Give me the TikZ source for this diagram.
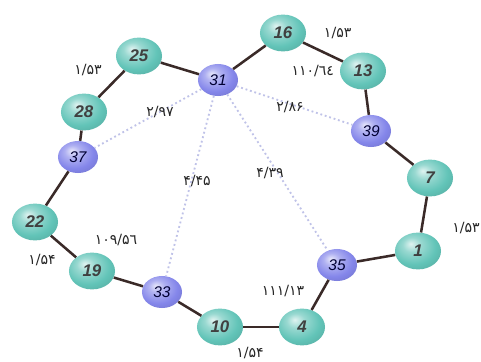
\documentclass[tikz,border=0pt]{standalone}
\usepackage{fontspec}
\usetikzlibrary{shapes.geometric,positioning}
\newfontfamily\fadigits{DejaVu Sans}
\newfontfamily\ballfont{Liberation Sans}
\definecolor{tealball}{HTML}{62C4B8}
\definecolor{blueball}{HTML}{8486EA}
\definecolor{linkcol}{HTML}{3A2A28}
\definecolor{weakcol}{HTML}{BFC2E8}
\pgfdeclareradialshading{tqball}{\pgfpoint{-8bp}{10bp}}{color(0bp)=(tealball!20!white); color(10bp)=(tealball!65!white); color(24bp)=(tealball); color(36bp)=(tealball!88!black); color(60bp)=(tealball!70!black)}
\pgfdeclareradialshading{blball}{\pgfpoint{-8bp}{10bp}}{color(0bp)=(blueball!20!white); color(10bp)=(blueball!65!white); color(24bp)=(blueball); color(36bp)=(blueball!88!black); color(60bp)=(blueball!70!black)}

\begin{document}
\begin{tikzpicture}[x=0.025cm, y=-0.025cm,
  tq/.style={ellipse, shading=tqball, minimum width=11.5mm, minimum height=9.2mm, inner sep=0pt, font=\ballfont\itshape\bfseries\fontsize{12}{12}\selectfont, text=black!75},
  bl/.style={ellipse, shading=blball, minimum width=10mm, minimum height=8mm, inner sep=0pt, font=\ballfont\itshape\fontsize{11}{11}\selectfont, text=blue!20!black},
  link/.style={draw=linkcol, line width=1.8pt},
  weak/.style={draw=weakcol, line width=1.3pt, dotted},
  lbl/.style={font=\fadigits\fontsize{10}{10}\selectfont, text=black!85, inner sep=1pt}]
  \fill[white] (0,0) rectangle (481,362);
  \useasboundingbox (0,0) rectangle (481,362);
  \foreach \n/\x/\y in {25/139/56, 16/283/33, 13/363/71, 7/430/178, 1/418/251, 4/302/327, 10/220/327, 19/92/271, 22/35/222, 28/84/112}
    \node[tq] (n\n) at (\x,\y) {\n};
  \foreach \n/\x/\y in {31/218/80, 39/371/131, 35/337/265, 33/162/292, 37/78/157}
    \node[bl] (n\n) at (\x,\y) {\n};
  \foreach \a/\b in {25/31, 31/16, 16/13, 13/39, 39/7, 7/1, 1/35, 35/4, 4/10, 10/33, 33/19, 19/22, 22/37, 37/28, 28/25}
    \draw[link] (n\a) -- (n\b);
  \foreach \b in {37, 39, 33, 35}
    \draw[weak] (n31) -- (n\b);
  \node[lbl] at (88,70) {۱/۵۳};
  \node[lbl, right=4mm of n16] {۱/۵۳};
  \node[lbl, left=1mm of n13] {۱۱۰/٦٤};
  \node[lbl] at (160,112) {۲/۹۷};
  \node[lbl] at (290,107) {۲/۸۶};
  \node[lbl] at (197,181) {۴/۴۵};
  \node[lbl] at (270,173) {۴/۳۹};
  \node[lbl] at (466,228) {۱/۵۳};
  \node[lbl] at (283,291) {۱۱۱/۱۳};
  \node[lbl] at (250,353) {۱/۵۴};
  \node[lbl] at (116,240) {۱۰۹/۵٦};
  \node[lbl] at (42,260) {۱/۵۴};
\end{tikzpicture}
\end{document}
